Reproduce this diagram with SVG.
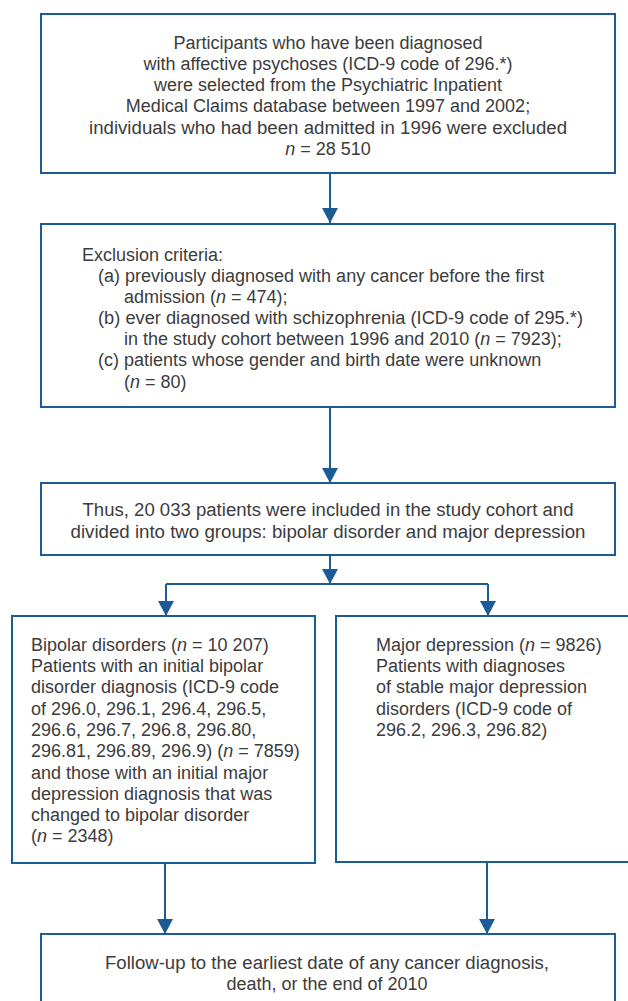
<svg xmlns="http://www.w3.org/2000/svg" width="628" height="1001" viewBox="0 0 628 1001">
<style>
.box{fill:#fff;stroke:#1b5b96;stroke-width:2}
.t{font-family:"Liberation Sans",Arial,sans-serif;font-size:18px;fill:#3c3c3c}
.c{text-anchor:middle}
.i{font-style:italic}
.ln{fill:none;stroke:#1b5b96;stroke-width:2}
</style>
<defs>
<marker id="ah" markerUnits="userSpaceOnUse" markerWidth="18" markerHeight="16" viewBox="0 0 18 16" refX="15" refY="8" orient="auto">
<path d="M0 0 L15 8 L0 16 Z" fill="#1b5b96"/>
</marker>
</defs>
<rect width="628" height="1001" fill="#fff"/>
<g id="connectors">
<path class="ln" d="M330 173 V223" marker-end="url(#ah)"/>
<path class="ln" d="M330 407 V483" marker-end="url(#ah)"/>
<path class="ln" d="M330 555 V584" marker-end="url(#ah)"/>
<path class="ln" d="M166 584 H488"/>
<path class="ln" d="M166 584 V616" marker-end="url(#ah)"/>
<path class="ln" d="M488 584 V616" marker-end="url(#ah)"/>
<path class="ln" d="M165 863 V934" marker-end="url(#ah)"/>
<path class="ln" d="M487 862 V934" marker-end="url(#ah)"/>
</g>
<g id="node-selection">
<rect class="box" x="41" y="14" width="574" height="159"/>
<text class="t c" x="328" y="49">Participants who have been diagnosed</text>
<text class="t c" x="328" y="70">with affective psychoses (ICD-9 code of 296.*)</text>
<text class="t c" x="328" y="91">were selected from the Psychiatric Inpatient</text>
<text class="t c" x="328" y="112">Medical Claims database between 1997 and 2002;</text>
<text class="t c" x="328" y="134" textLength="478" lengthAdjust="spacingAndGlyphs">individuals who had been admitted in 1996 were excluded</text>
<text class="t c" x="328" y="155"><tspan class="i">n</tspan> = 28 510</text>
</g>
<g id="node-exclusion">
<rect class="box" x="41" y="224" width="574" height="183"/>
<text class="t" x="82" y="261">Exclusion criteria:</text>
<text class="t" x="98" y="282">(a) previously diagnosed with any cancer before the first</text>
<text class="t" x="124" y="303">admission (<tspan class="i">n</tspan> = 474);</text>
<text class="t" x="98" y="324" textLength="485" lengthAdjust="spacingAndGlyphs">(b) ever diagnosed with schizophrenia (ICD-9 code of 295.*)</text>
<text class="t" x="124" y="345">in the study cohort between 1996 and 2010 (<tspan class="i">n</tspan> = 7923);</text>
<text class="t" x="98" y="366">(c) patients whose gender and birth date were unknown</text>
<text class="t" x="124" y="388">(<tspan class="i">n</tspan> = 80)</text>
</g>
<g id="node-included">
<rect class="box" x="41" y="483" width="574" height="72"/>
<text class="t c" x="328" y="516" textLength="491" lengthAdjust="spacingAndGlyphs">Thus, 20 033 patients were included in the study cohort and</text>
<text class="t c" x="328" y="538" textLength="515" lengthAdjust="spacingAndGlyphs">divided into two groups: bipolar disorder and major depression</text>
</g>
<g id="node-bipolar">
<rect class="box" x="12" y="616" width="303" height="247"/>
<text class="t" x="31" y="651">Bipolar disorders (<tspan class="i">n</tspan> = 10 207)</text>
<text class="t" x="31" y="672">Patients with an initial bipolar</text>
<text class="t" x="31" y="693" textLength="248" lengthAdjust="spacingAndGlyphs">disorder diagnosis (ICD-9 code</text>
<text class="t" x="31" y="715">of 296.0, 296.1, 296.4, 296.5,</text>
<text class="t" x="31" y="736">296.6, 296.7, 296.8, 296.80,</text>
<text class="t" x="31" y="757">296.81, 296.89, 296.9) (<tspan class="i">n</tspan> = 7859)</text>
<text class="t" x="31" y="779">and those with an initial major</text>
<text class="t" x="31" y="800">depression diagnosis that was</text>
<text class="t" x="31" y="821">changed to bipolar disorder</text>
<text class="t" x="31" y="842">(<tspan class="i">n</tspan> = 2348)</text>
</g>
<g id="node-depression">
<rect class="box" x="336" y="616" width="300" height="246"/>
<text class="t" x="376" y="651">Major depression (<tspan class="i">n</tspan> = 9826)</text>
<text class="t" x="376" y="672">Patients with diagnoses</text>
<text class="t" x="376" y="693">of stable major depression</text>
<text class="t" x="376" y="715">disorders (ICD-9 code of</text>
<text class="t" x="376" y="736">296.2, 296.3, 296.82)</text>
</g>
<g id="node-followup">
<rect class="box" x="41" y="934" width="574" height="80"/>
<text class="t c" x="327" y="969" textLength="444" lengthAdjust="spacingAndGlyphs">Follow-up to the earliest date of any cancer diagnosis,</text>
<text class="t c" x="327" y="990">death, or the end of 2010</text>
</g>
</svg>
